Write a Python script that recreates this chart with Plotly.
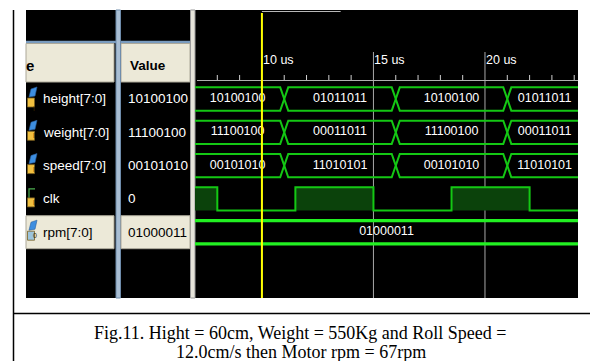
import plotly.graph_objects as go

W, H = 590, 361

# ---- waveform data (times in microseconds) --------------------------------
signal_names = ["height[7:0]", "weight[7:0]", "speed[7:0]", "clk", "rpm[7:0]"]
cursor_values = ["10100100", "11100100", "00101010", "0", "01000011"]

bus_edges_us = [11, 16, 21]
height_vals = ["10100100", "01011011", "10100100", "01011011"]
weight_vals = ["11100100", "00011011", "11100100", "00011011"]
speed_vals = ["00101010", "11010101", "00101010", "11010101"]
rpm_edges_us = []
rpm_vals = ["01000011"]

clk_edges_us = [4.5, 8, 11.5, 15, 18.5, 22]
clk_levels = [0, 1, 0, 1, 0, 1, 0]  # level before the first edge, then after each edge

view_us = [7.0, 24.17]
cursor_us = 10.0
marker_end_us = 13.53
major_ticks_us = [10, 15, 20]
major_tick_labels = ["10 us", "15 us", "20 us"]
minor_ticks_us = [8, 9, 11, 12, 13, 14, 16, 17, 18, 19, 21, 22, 23, 24]

caption_lines = ["Fig.11. Hight = 60cm, Weight = 550Kg and Roll Speed =",
                 "12.0cm/s then Motor rpm = 67rpm"]

# ---- window geometry (pixels) --------------------------------------------
ROW0_PY = 99.0     # centre of the first lane
PITCH = 33.3       # distance between lanes
WIN_L, WIN_R, WIN_T, WIN_B = 26, 578, 10, 298
WAVE_L = 195
HALF = 0.35        # half bus height, in lanes
SLANT = 0.18       # half width of a bus crossing, in us

BUS_GREEN = "#14c814"
RPM_GREEN = "#22f022"
CLK_FILL = "#0b420b"
BEIGE = "#ece9d8"
UI_FONT = "Liberation Sans"


def px(x):
    return x / W


def py(y):
    return 1 - y / H


def lane_py(lane):
    return ROW0_PY + lane * PITCH


fig = go.Figure()


def bus_trace(edges, lane, color, width):
    bounds = [view_us[0] - 1] + edges + [view_us[1] + 1]
    xs, ys = [], []
    for a, b in zip(bounds[:-1], bounds[1:]):
        xs += [a, a + SLANT, b - SLANT, b, b - SLANT, a + SLANT, a, None]
        ys += [lane, lane - HALF, lane - HALF, lane, lane + HALF, lane + HALF, lane, None]
    fig.add_trace(go.Scatter(x=xs, y=ys, mode="lines", hoverinfo="skip",
                             line=dict(color=color, width=width)))


def bus_text(edges, values, lane):
    bounds = [view_us[0] - 1] + edges + [view_us[1] + 1]
    xs = []
    for a, b in zip(bounds[:-1], bounds[1:]):
        left = max(a + SLANT, view_us[0])
        right = min(b - SLANT, view_us[1])
        xs.append((left + right) / 2)
    fig.add_trace(go.Scatter(x=xs, y=[lane] * len(xs), mode="text", text=values,
                             textposition="middle center", hoverinfo="skip",
                             textfont=dict(family=UI_FONT, size=12.5, color="white")))


bus_trace(bus_edges_us, 0, BUS_GREEN, 2)
bus_trace(bus_edges_us, 1, BUS_GREEN, 2)
bus_trace(bus_edges_us, 2, BUS_GREEN, 2)
bus_trace(rpm_edges_us, 4, RPM_GREEN, 3.2)

bus_text(bus_edges_us, height_vals, 0)
bus_text(bus_edges_us, weight_vals, 1)
bus_text(bus_edges_us, speed_vals, 2)
bus_text(rpm_edges_us, rpm_vals, 4)

# clock lane: dark fill under the high phases
clk_lane = 3
clk_x = [0] + clk_edges_us + [30]
clk_y = [clk_lane - HALF if v else clk_lane + HALF for v in clk_levels]
clk_y = clk_y + [clk_y[-1]]
fig.add_trace(go.Scatter(x=[0, 30], y=[clk_lane + HALF] * 2, mode="lines",
                         line=dict(width=0, color=CLK_FILL), hoverinfo="skip"))
fig.add_trace(go.Scatter(x=clk_x, y=clk_y, mode="lines", line_shape="hv",
                         fill="tonexty", fillcolor=CLK_FILL, hoverinfo="skip",
                         line=dict(color=BUS_GREEN, width=2)))

shapes = []
annotations = []


def rect(x0, y0, x1, y1, fill, line=None, lw=0, layer="below"):
    shapes.append(dict(type="rect", xref="paper", yref="paper",
                       x0=px(x0), x1=px(x1), y0=py(y0), y1=py(y1),
                       fillcolor=fill, layer=layer,
                       line=dict(width=lw, color=line or fill)))


def hline(x0, x1, y, color, lw=1, layer="below"):
    shapes.append(dict(type="line", xref="paper", yref="paper",
                       x0=px(x0), x1=px(x1), y0=py(y), y1=py(y),
                       layer=layer, line=dict(color=color, width=lw)))


def vline(x, y0, y1, color, lw=1, layer="below"):
    shapes.append(dict(type="line", xref="paper", yref="paper",
                       x0=px(x), x1=px(x), y0=py(y0), y1=py(y1),
                       layer=layer, line=dict(color=color, width=lw)))


# window background and column chrome
rect(WIN_L, WIN_T, WIN_R, WIN_B, "black")
hline(WIN_L, 191, 42, "#7a9cbf", 2.5)
rect(WIN_L, 43.5, 114, 82, BEIGE, "#aca899", 1)
rect(121, 43.5, 190, 82, BEIGE, "#aca899", 1)
rect(116, WIN_T, 120.5, WIN_B, "#a9bed3", "#6f8cab", 1)
rect(190.5, WIN_T, 195, WIN_B, "#e6e4da", "#9a9a9a", 1)

# selected row (rpm)
sel_py = lane_py(4)
rect(WIN_L, sel_py - 16.5, 114, sel_py + 16.5, BEIGE, "#aca899", 1)
rect(121, sel_py - 16.5, 190, sel_py + 16.5, BEIGE, "#aca899", 1)

annotations.append(dict(text="<b>e</b>", xref="paper", yref="paper", x=px(26),
                        y=py(65), xanchor="left", yanchor="middle", showarrow=False,
                        xshift=-2, font=dict(family=UI_FONT, size=15, color="black")))
annotations.append(dict(text="<b>Value</b>", xref="paper", yref="paper", x=px(129),
                        y=py(65), xanchor="left", yanchor="middle", showarrow=False,
                        xshift=-1, font=dict(family=UI_FONT, size=13.5, color="black")))

# signal names, icons and values at the cursor
for i, (name, val) in enumerate(zip(signal_names, cursor_values)):
    cy = lane_py(i)
    tc = "black" if i == 4 else "white"
    if name == "clk":
        shapes.append(dict(type="path", xref="paper", yref="paper", layer="below",
                           path=f"M {px(29)},{py(cy - 1)} L {px(29)},{py(cy - 10)} L {px(35)},{py(cy - 10)}",
                           line=dict(color="#4caf50", width=1.2)))
    else:
        shapes.append(dict(type="path", xref="paper", yref="paper", layer="below",
                           path=(f"M {px(29)},{py(cy - 2)} L {px(31)},{py(cy - 10)} "
                                 f"L {px(37)},{py(cy - 12)} L {px(35)},{py(cy - 3)} Z"),
                           fillcolor="#3d8ee0", line=dict(color="#2a5fa0", width=0.6)))
    box_fill = "#9cc4dc" if i == 4 else "#f0c040"
    rect(27.5, cy - 1, 34.5, cy + 8, box_fill, "#7a6020", 0.8)
    annotations.append(dict(text="0" if i == 4 else "I", xref="paper", yref="paper",
                            x=px(31), y=py(cy + 3.7), showarrow=False,
                            font=dict(family=UI_FONT, size=7, color="#3a2a00")))
    annotations.append(dict(text=name, xref="paper", yref="y", x=px(41), y=i,
                            xanchor="left", yanchor="middle", showarrow=False,
                            font=dict(family=UI_FONT, size=13.5, color=tc)))
    annotations.append(dict(text=val, xref="paper", yref="y", x=px(126), y=i,
                            xanchor="left", yanchor="middle", showarrow=False,
                            font=dict(family=UI_FONT, size=13.5, color=tc)))

# time ruler
for t, lab in zip(major_ticks_us, major_tick_labels):
    shapes.append(dict(type="line", xref="x", yref="paper", x0=t, x1=t,
                       y0=py(52), y1=py(WIN_B), layer="below",
                       line=dict(color="#a8a8a8", width=1)))
    annotations.append(dict(text=lab, xref="x", yref="paper", x=t, y=py(60),
                            xanchor="left", yanchor="middle", showarrow=False,
                            xshift=-1, font=dict(family=UI_FONT, size=12.5, color="white")))
for t in minor_ticks_us:
    shapes.append(dict(type="line", xref="x", yref="paper", x0=t, x1=t,
                       y0=py(75), y1=py(80.5), layer="below",
                       line=dict(color="#d0d0d0", width=1)))
shapes.append(dict(type="line", xref="paper", yref="paper", x0=px(197), x1=px(WIN_R),
                   y0=py(80.5), y1=py(80.5), layer="below",
                   line=dict(color="#b0b0b0", width=1)))

# cursor
shapes.append(dict(type="line", xref="x", yref="paper", x0=cursor_us, x1=cursor_us,
                   y0=py(13), y1=py(WIN_B), layer="above",
                   line=dict(color="#ffff00", width=2)))
shapes.append(dict(type="line", xref="x", yref="paper", x0=cursor_us, x1=marker_end_us,
                   y0=py(11.5), y1=py(11.5), layer="above",
                   line=dict(color="#b8b8b8", width=1)))

# figure frame and caption
vline(13.5, WIN_T, H, "black", 1.5, "above")
hline(13, W, 313.5, "black", 1.5, "above")
for k, line in enumerate(caption_lines):
    annotations.append(dict(text=line, xref="paper", yref="paper", x=px(301),
                            y=py(332.5 + 19 * k), xanchor="center", yanchor="middle",
                            showarrow=False,
                            font=dict(family="Liberation Serif", size=18, color="black")))

fig.update_layout(
    width=W, height=H, margin=dict(l=0, r=0, t=0, b=0),
    paper_bgcolor="white", plot_bgcolor="black", showlegend=False,
    xaxis=dict(domain=[px(WAVE_L), px(WIN_R)], range=view_us, visible=False,
               fixedrange=True),
    yaxis=dict(domain=[py(WIN_B), py(WIN_T)],
               range=[(WIN_B - ROW0_PY) / PITCH, (WIN_T - ROW0_PY) / PITCH],
               visible=False, fixedrange=True),
    shapes=shapes, annotations=annotations,
)

fig.write_html("out.html", config={"displayModeBar": False})
